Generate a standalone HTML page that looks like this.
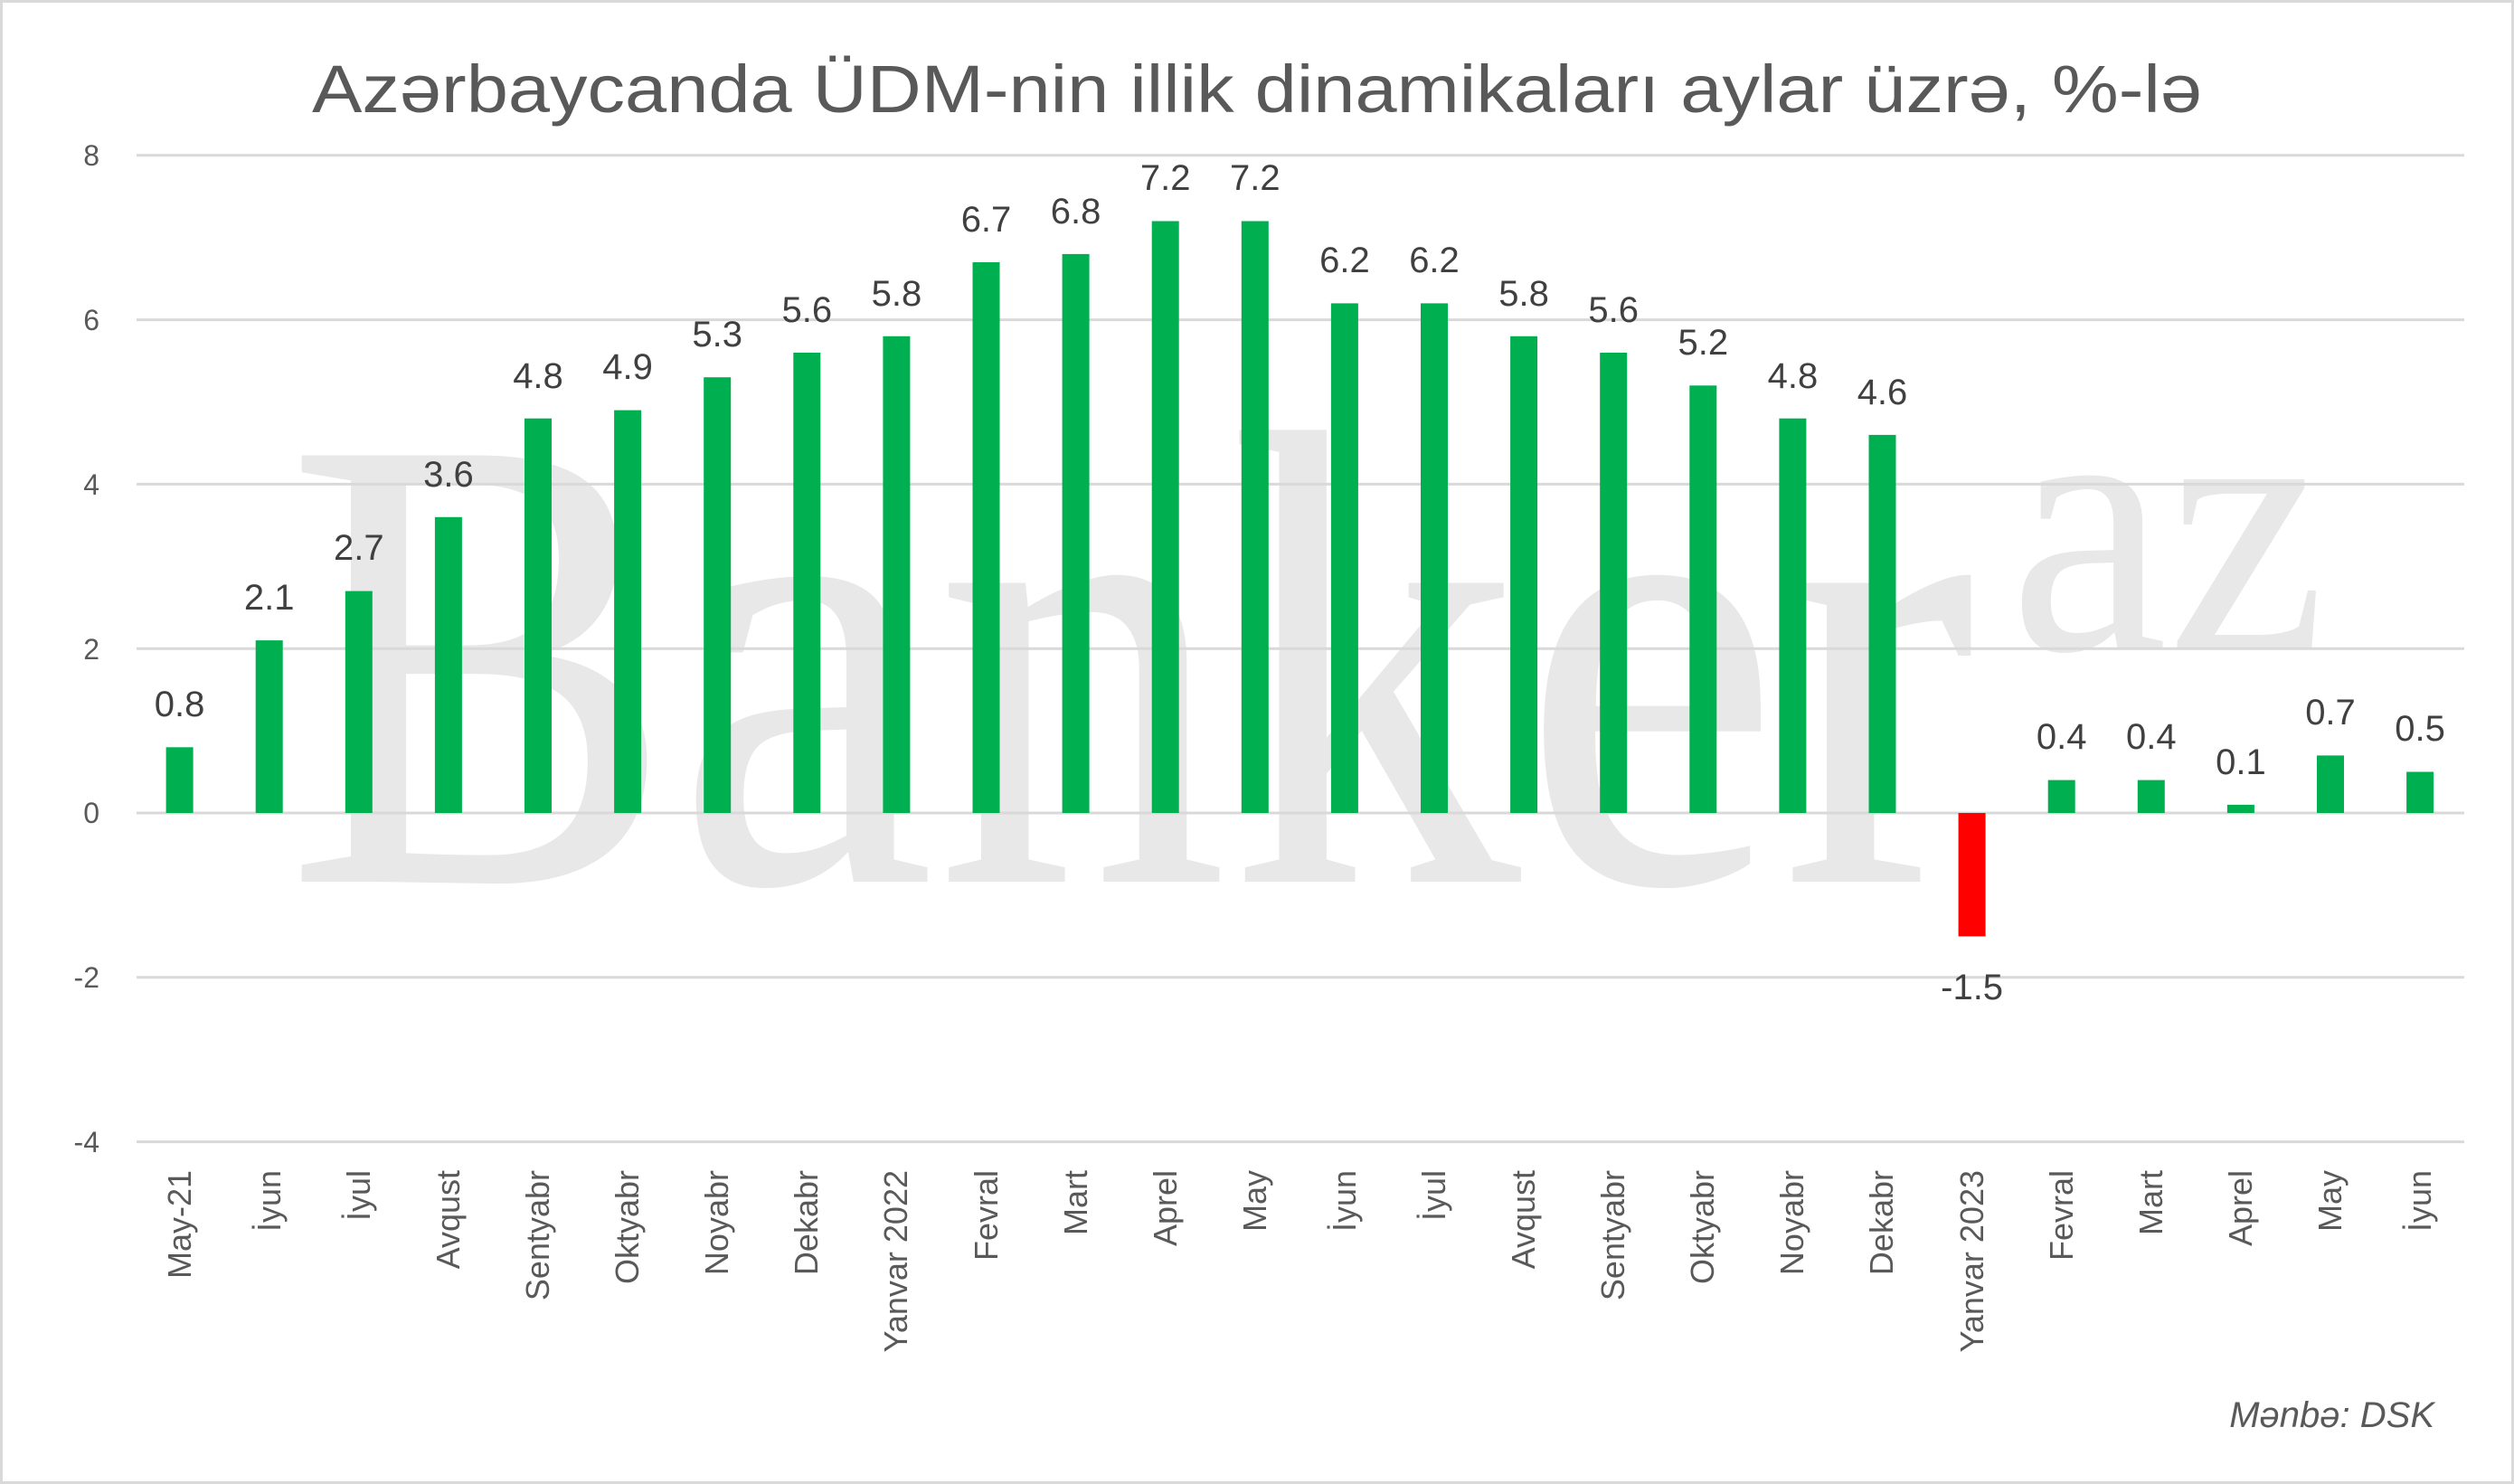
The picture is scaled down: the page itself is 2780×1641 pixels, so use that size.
<!DOCTYPE html>
<html><head><meta charset="utf-8"><style>html,body{margin:0;padding:0;background:#fff}svg{display:block}</style></head>
<body>
<svg width="2780" height="1641" viewBox="0 0 2780 1641" xmlns="http://www.w3.org/2000/svg">
<rect x="1.5" y="1.5" width="2777" height="1638" fill="#fff" stroke="#d9d9d9" stroke-width="3"/>
<!-- watermark -->
<g fill="#e8e8e8" font-family="Liberation Serif, serif">
<text x="315" y="975" font-size="720" textLength="1870" lengthAdjust="spacingAndGlyphs">Banker</text>
<text x="2222" y="718" font-size="410" textLength="350" lengthAdjust="spacingAndGlyphs">az</text>
</g>
<!-- title -->
<text x="1390" y="124" text-anchor="middle" font-family="Liberation Sans, sans-serif" font-size="74" fill="#595959" textLength="2090" lengthAdjust="spacingAndGlyphs">Azərbaycanda ÜDM-nin illik dinamikaları aylar üzrə, %-lə</text>
<!-- gridlines -->
<g stroke="#d9d9d9" stroke-width="3">
<line x1="151" x2="2725" y1="171.8" y2="171.8"/>
<line x1="151" x2="2725" y1="353.6" y2="353.6"/>
<line x1="151" x2="2725" y1="535.4" y2="535.4"/>
<line x1="151" x2="2725" y1="717.2" y2="717.2"/>
<line x1="151" x2="2725" y1="899" y2="899"/>
<line x1="151" x2="2725" y1="1080.8" y2="1080.8"/>
<line x1="151" x2="2725" y1="1262.6" y2="1262.6"/>
</g>
<g font-family="Liberation Sans, sans-serif" font-size="32" fill="#595959" text-anchor="end">
<text x="110" y="183">8</text>
<text x="110" y="365">6</text>
<text x="110" y="547">4</text>
<text x="110" y="729">2</text>
<text x="110" y="910">0</text>
<text x="110" y="1092">-2</text>
<text x="110" y="1274">-4</text>
</g>
<!-- bars -->
<g fill="#00b050">
<rect x="183.6" y="826.3" width="30" height="72.7"/>
<rect x="282.7" y="708.1" width="30" height="190.9"/>
<rect x="381.8" y="653.6" width="30" height="245.4"/>
<rect x="480.9" y="571.8" width="30" height="327.2"/>
<rect x="580" y="462.7" width="30" height="436.3"/>
<rect x="679.1" y="453.6" width="30" height="445.4"/>
<rect x="778.2" y="417.2" width="30" height="481.8"/>
<rect x="877.3" y="390" width="30" height="509"/>
<rect x="976.4" y="371.8" width="30" height="527.2"/>
<rect x="1075.5" y="290" width="30" height="609"/>
<rect x="1174.6" y="280.9" width="30" height="618.1"/>
<rect x="1273.7" y="244.5" width="30" height="654.5"/>
<rect x="1372.8" y="244.5" width="30" height="654.5"/>
<rect x="1471.9" y="335.4" width="30" height="563.6"/>
<rect x="1571" y="335.4" width="30" height="563.6"/>
<rect x="1670.1" y="371.8" width="30" height="527.2"/>
<rect x="1769.2" y="390" width="30" height="509"/>
<rect x="1868.3" y="426.3" width="30" height="472.7"/>
<rect x="1967.4" y="462.7" width="30" height="436.3"/>
<rect x="2066.5" y="480.9" width="30" height="418.1"/>
<rect x="2264.7" y="862.6" width="30" height="36.4"/>
<rect x="2363.8" y="862.6" width="30" height="36.4"/>
<rect x="2462.9" y="889.9" width="30" height="9.1"/>
<rect x="2562" y="835.4" width="30" height="63.6"/>
<rect x="2661.1" y="853.5" width="30" height="45.5"/>
</g>
<rect x="2165.6" y="899" width="30" height="136.4" fill="#ff0000"/>
<!-- data labels -->
<g font-family="Liberation Sans, sans-serif" font-size="40" fill="#404040" text-anchor="middle">
<text x="198.6" y="792">0.8</text>
<text x="297.7" y="674">2.1</text>
<text x="396.8" y="619">2.7</text>
<text x="495.9" y="538">3.6</text>
<text x="595" y="429">4.8</text>
<text x="694.1" y="419">4.9</text>
<text x="793.2" y="383">5.3</text>
<text x="892.3" y="356">5.6</text>
<text x="991.4" y="338">5.8</text>
<text x="1090.5" y="256">6.7</text>
<text x="1189.6" y="247">6.8</text>
<text x="1288.7" y="210">7.2</text>
<text x="1387.8" y="210">7.2</text>
<text x="1486.9" y="301">6.2</text>
<text x="1586" y="301">6.2</text>
<text x="1685.1" y="338">5.8</text>
<text x="1784.2" y="356">5.6</text>
<text x="1883.3" y="392">5.2</text>
<text x="1982.4" y="429">4.8</text>
<text x="2081.5" y="447">4.6</text>
<text x="2180.6" y="1105">-1.5</text>
<text x="2279.7" y="828">0.4</text>
<text x="2378.8" y="828">0.4</text>
<text x="2477.9" y="856">0.1</text>
<text x="2577" y="801">0.7</text>
<text x="2676.1" y="819">0.5</text>
</g>
<!-- category labels -->
<g font-family="Liberation Sans, sans-serif" font-size="36" fill="#595959" text-anchor="end">
<text transform="translate(211,1294) rotate(-90)">May-21</text>
<text transform="translate(310,1294) rotate(-90)">İyun</text>
<text transform="translate(409,1294) rotate(-90)">İyul</text>
<text transform="translate(508,1294) rotate(-90)">Avqust</text>
<text transform="translate(607,1294) rotate(-90)">Sentyabr</text>
<text transform="translate(706,1294) rotate(-90)">Oktyabr</text>
<text transform="translate(805,1294) rotate(-90)">Noyabr</text>
<text transform="translate(904,1294) rotate(-90)">Dekabr</text>
<text transform="translate(1003,1294) rotate(-90)">Yanvar 2022</text>
<text transform="translate(1103,1294) rotate(-90)">Fevral</text>
<text transform="translate(1202,1294) rotate(-90)">Mart</text>
<text transform="translate(1301,1294) rotate(-90)">Aprel</text>
<text transform="translate(1400,1294) rotate(-90)">May</text>
<text transform="translate(1499,1294) rotate(-90)">İyun</text>
<text transform="translate(1598,1294) rotate(-90)">İyul</text>
<text transform="translate(1697,1294) rotate(-90)">Avqust</text>
<text transform="translate(1796,1294) rotate(-90)">Sentyabr</text>
<text transform="translate(1895,1294) rotate(-90)">Oktyabr</text>
<text transform="translate(1994,1294) rotate(-90)">Noyabr</text>
<text transform="translate(2093,1294) rotate(-90)">Dekabr</text>
<text transform="translate(2193,1294) rotate(-90)">Yanvar 2023</text>
<text transform="translate(2292,1294) rotate(-90)">Fevral</text>
<text transform="translate(2391,1294) rotate(-90)">Mart</text>
<text transform="translate(2490,1294) rotate(-90)">Aprel</text>
<text transform="translate(2589,1294) rotate(-90)">May</text>
<text transform="translate(2688,1294) rotate(-90)">İyun</text>
</g>
<text x="2692" y="1578" text-anchor="end" font-family="Liberation Sans, sans-serif" font-style="italic" font-size="40" fill="#595959">Mənbə: DSK</text>
</svg>
</body></html>
